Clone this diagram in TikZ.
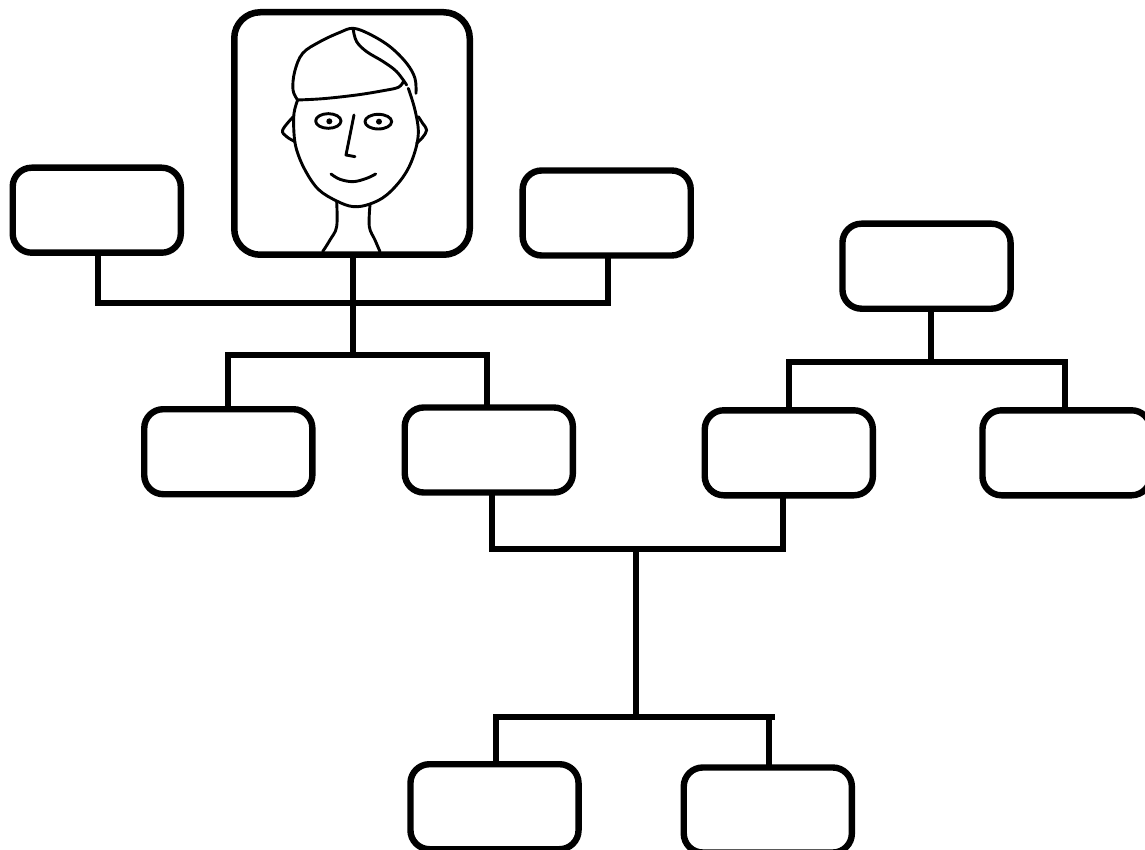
\documentclass[tikz,border=0pt]{standalone}
\begin{document}
\begin{tikzpicture}[x=1pt,y=-1pt,
  box/.style={draw=black,line width=6.4pt,rounded corners=19pt,minimum width=168.1pt,minimum height=85pt,inner sep=0pt,fill=white},
  photo/.style={draw=black,line width=6.5pt,rounded corners=26pt,minimum width=235.5pt,minimum height=242.5pt,inner sep=0pt,fill=white},
  link/.style={draw=black,line width=6.2pt,line cap=butt,line join=miter},
  face/.style={draw=black,line width=2.9pt,line cap=round,line join=round}]
\useasboundingbox (0,0) rectangle (1145,850);
\fill[white] (0,0) rectangle (1145,850);
% nodes are placed first, invisibly sized the same, so connectors can use their names
\node[box,draw=none,fill=none] (tl) at (96.75,210.2) {};
\node[photo,draw=none,fill=none] (ph) at (352,133.5) {};
\node[box,draw=none,fill=none] (tr) at (606.7,213) {};
\node[box,draw=none,fill=none] (fr) at (926.5,266.2) {};
\node[box,draw=none,fill=none] (ma) at (228.3,451.7) {};
\node[box,draw=none,fill=none] (mb) at (488.8,450) {};
\node[box,draw=none,fill=none] (mc) at (788.8,452.8) {};
\node[box,draw=none,fill=none] (md) at (1066.5,452.8) {};
\node[box,draw=none,fill=none] (ba) at (494.5,806.7) {};
\node[box,draw=none,fill=none] (bb) at (767.8,810) {};
% junctions
\coordinate (busA) at (353.3,302.7);
\coordinate (busB) at (353.3,355);
\coordinate (busC) at (930.7,362);
\coordinate (busD) at (636,549.3);
\coordinate (busE) at (636,716.7);
\coordinate (busF) at (774.7,716.7);
% connectors
\draw[link] ([xshift=1.5pt]tl.center) |- (busA) -| ([xshift=1.6pt]tr.center);
\draw[link] ([xshift=1.3pt]ph.center) -- (busB);
\draw[link] (ma.center) |- (busB) -| ([xshift=-1.5pt]mb.center);
\draw[link] ([xshift=4.2pt]fr.center) -- (busC);
\draw[link] ([xshift=0.2pt]mc.center) |- (busC) -| ([xshift=-1.5pt]md.center);
\draw[link] ([xshift=3.2pt]mb.center) |- (busD) -| ([xshift=-5.5pt]mc.center);
\draw[link] (busD) -- (busE);
\draw[link] ([xshift=1.5pt]ba.center) |- (busE) -- (busF);
\draw[link] ([xshift=1.5pt]bb.center) -- ([xshift=1.5pt]bb.center |- busF);
% boxes
\node[box] at (tl) {};
\node[photo] at (ph) {};
\node[box] at (tr) {};
\node[box] at (fr) {};
\node[box] at (ma) {};
\node[box] at (mb) {};
\node[box] at (mc) {};
\node[box] at (md) {};
\node[box] at (ba) {};
\node[box] at (bb) {};
% face
\begin{scope}[shift={(230,0)},x=0.3333pt,y=-0.3333pt]
\draw[face] plot[smooth,tension=0.6] coordinates {(203,300)(189,270)(194,215)(218,160)(270,125)(330,97)(370,85)(420,103)(480,140)(530,190)(555,235)(558,280)};
\draw[face] plot[smooth,tension=0.6] coordinates {(203,300)(280,296)(380,285)(460,272)(505,262)(520,245)};
\draw[face] plot[smooth,tension=0.6] coordinates {(370,90)(380,125)(410,155)(460,185)(500,215)(530,255)};
\draw[face] plot[smooth,tension=0.6] coordinates {(535,265)(555,330)(565,400)(550,470)(520,530)(470,585)(420,612)(370,620)(320,603)(265,568)(225,510)(200,450)(192,400)(192,340)(203,300)};
\draw[face] plot[smooth,tension=0.6] coordinates {(190,350)(158,390)(170,410)(195,425)};
\draw[face] plot[smooth,tension=0.6] coordinates {(565,350)(578,370)(590,390)(578,412)(560,430)};
\draw[face] (295,363) ellipse [x radius=38,y radius=22];
\draw[face] (445,365) ellipse [x radius=40,y radius=22];
\fill (298,364) circle [radius=9];
\fill (447,365) circle [radius=9];
\draw[face] (372,345) -- (348,465) -- (375,470);
\draw[face] plot[smooth,tension=0.6] coordinates {(303,522)(330,538)(370,545)(410,535)(437,522)};
\draw[face] plot[smooth,tension=0.6] coordinates {(320,605)(320,680)(300,720)(278,755)};
\draw[face] plot[smooth,tension=0.6] coordinates {(420,615)(418,680)(435,720)(450,755)};
\end{scope}
\end{tikzpicture}
\end{document}
